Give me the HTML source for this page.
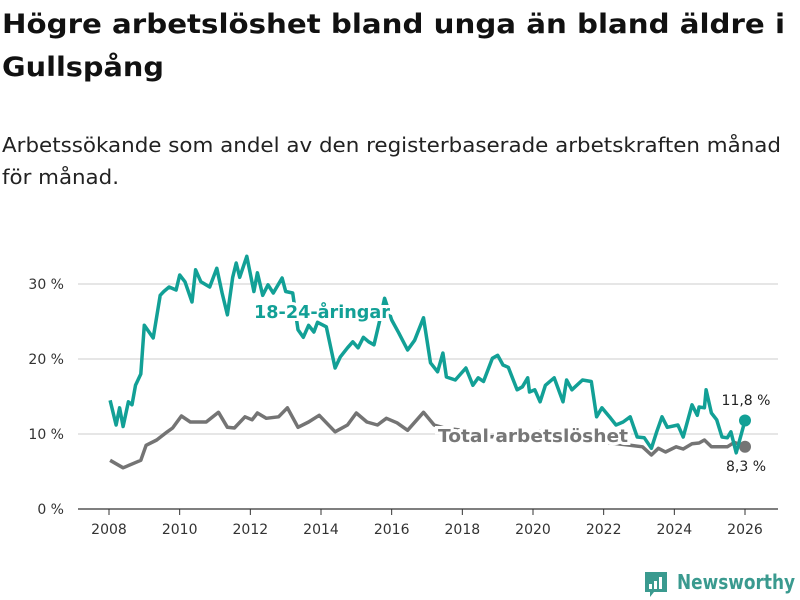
<!DOCTYPE html>
<html><head><meta charset="utf-8"><style>
body{margin:0;background:#fff;font-family:"DejaVu Sans","Liberation Sans",sans-serif;}
#wrap{position:relative;width:800px;height:600px;overflow:hidden;}
</style></head><body>
<div id="wrap">
<svg id="chart" width="800" height="600" style="position:absolute;left:0;top:0">
<g font-family="DejaVu Sans, sans-serif" font-weight="bold" font-size="27" fill="#111">
<text x="2" y="33" textLength="783" lengthAdjust="spacingAndGlyphs">Högre arbetslöshet bland unga än bland äldre i</text>
<text x="2" y="76" textLength="162" lengthAdjust="spacingAndGlyphs">Gullspång</text>
</g>
<g font-family="DejaVu Sans, sans-serif" font-size="20" fill="#222">
<text x="2" y="152" textLength="779" lengthAdjust="spacingAndGlyphs">Arbetssökande som andel av den registerbaserade arbetskraften månad</text>
<text x="2" y="184" textLength="117" lengthAdjust="spacingAndGlyphs">för månad.</text>
</g>
</svg>
</div>
<script>
const yTicks=[0,10,20,30];
const xTicks=[2008,2010,2012,2014,2016,2018,2020,2022,2024,2026];
const youthYears=[2008.03,2008.2,2008.3,2008.4,2008.55,2008.65,2008.75,2008.9,2009.0,2009.25,2009.45,2009.55,2009.7,2009.9,2010.0,2010.15,2010.35,2010.45,2010.6,2010.85,2011.05,2011.2,2011.35,2011.5,2011.6,2011.7,2011.9,2012.1,2012.2,2012.35,2012.5,2012.65,2012.9,2013.0,2013.2,2013.35,2013.5,2013.65,2013.8,2013.9,2014.15,2014.4,2014.55,2014.75,2014.9,2015.05,2015.2,2015.35,2015.5,2015.65,2015.8,2016.0,2016.2,2016.45,2016.65,2016.9,2017.1,2017.3,2017.45,2017.55,2017.8,2018.1,2018.3,2018.45,2018.6,2018.85,2019.0,2019.15,2019.3,2019.55,2019.7,2019.85,2019.9,2020.05,2020.2,2020.35,2020.6,2020.85,2020.95,2021.1,2021.4,2021.65,2021.8,2021.95,2022.2,2022.35,2022.55,2022.75,2022.95,2023.15,2023.35,2023.5,2023.65,2023.8,2024.1,2024.25,2024.5,2024.65,2024.7,2024.85,2024.9,2025.05,2025.2,2025.35,2025.5,2025.6,2025.75,2026.0];
const youth=[14.5,11.2,13.5,11,14.3,13.9,16.5,18,24.5,22.8,28.5,29,29.6,29.2,31.2,30.3,27.6,31.9,30.3,29.6,32.1,28.8,25.9,30.9,32.8,30.9,33.7,29,31.5,28.5,29.9,28.8,30.8,29,28.8,23.9,22.9,24.5,23.6,24.9,24.3,18.8,20.3,21.5,22.3,21.5,22.9,22.3,21.9,24.9,28.1,25.2,23.5,21.2,22.5,25.5,19.5,18.3,20.8,17.6,17.2,18.8,16.5,17.5,17,20.1,20.5,19.2,18.9,15.9,16.3,17.5,15.6,15.9,14.3,16.5,17.5,14.3,17.2,15.9,17.2,17,12.3,13.5,12.1,11.2,11.6,12.3,9.6,9.5,8.1,10.3,12.3,10.9,11.2,9.6,13.9,12.5,13.6,13.5,15.9,12.8,11.9,9.6,9.5,10.3,7.5,11.8];
const totalYears=[2008.03,2008.4,2008.7,2008.9,2009.05,2009.35,2009.65,2009.8,2010.05,2010.3,2010.75,2011.1,2011.35,2011.55,2011.85,2012.05,2012.2,2012.45,2012.8,2013.05,2013.35,2013.65,2013.95,2014.4,2014.75,2015.0,2015.3,2015.6,2015.85,2016.15,2016.45,2016.9,2017.2,2017.5,2018.0,2018.7,2019.5,2020.3,2021.0,2021.6,2022.2,2022.75,2023.1,2023.35,2023.55,2023.75,2024.05,2024.25,2024.5,2024.7,2024.85,2025.05,2025.5,2025.7,2026.0];
const total=[6.5,5.5,6.1,6.5,8.5,9.2,10.3,10.8,12.4,11.6,11.6,12.9,10.9,10.8,12.3,11.9,12.8,12.1,12.3,13.5,10.9,11.6,12.5,10.3,11.2,12.8,11.6,11.2,12.1,11.5,10.5,12.9,11.2,10.8,10.5,9.6,9.8,10.5,9.8,9,8.8,8.5,8.3,7.2,8.1,7.6,8.3,8,8.7,8.8,9.2,8.3,8.3,8.9,8.3];
const youthLast="11,8 %", totalLast="8,3 %";
const svg=document.getElementById('chart');
const NS='http://www.w3.org/2000/svg';
const X=v=>109+(v-2008)*(745-109)/18;
const Y=v=>509-v*7.5;
function el(t,a,p){const e=document.createElementNS(NS,t);for(const k in a)e.setAttribute(k,a[k]);(p||svg).appendChild(e);return e;}
yTicks.forEach(t=>{
 if(t>0){const g=el('line',{x1:78,x2:778,y1:Y(t),y2:Y(t),stroke:'#ddd','stroke-width':1.5});
 
 }
 const l=el('text',{x:64,y:Y(t)+5,'text-anchor':'end','font-size':14,fill:'#333'});l.textContent=t+' %';
 
 
});
const ax=el('line',{x1:78,x2:778,y1:509,y2:509,stroke:'#333','stroke-width':1.2});


xTicks.forEach(t=>{
 el('line',{x1:X(t),x2:X(t),y1:509,y2:515,stroke:'#333','stroke-width':1});
 const l=el('text',{x:X(t),y:534,'text-anchor':'middle','font-size':14,fill:'#333'});l.textContent=t;
 
 
});
function series(years,arr,color,name){
 const n=arr.length;const pts=arr.map((v,i)=>[X(years[i]),Y(v)]);
 const p=el('path',{d:'M'+pts.map(q=>q[0].toFixed(1)+','+q[1].toFixed(1)).join('L'),fill:'none',stroke:color,'stroke-width':3.5,'stroke-linejoin':'round'});
 
 
 const c=el('circle',{cx:pts[n-1][0],cy:pts[n-1][1],r:6,fill:color});
 
 
}
series(totalYears,total,'#747474','total');
const l2=el('text',{x:438,y:442,'font-size':18,'font-weight':'bold',fill:'#777',stroke:'#fff','stroke-width':6,'paint-order':'stroke',textLength:190,lengthAdjust:'spacingAndGlyphs'});l2.textContent='Total arbetslöshet';


series(youthYears,youth,'#12a096','youth');
const l1=el('text',{x:254,y:318,'font-size':18,'font-weight':'bold',fill:'#12a096',stroke:'#fff','stroke-width':6,'paint-order':'stroke',textLength:136,lengthAdjust:'spacingAndGlyphs'});l1.textContent='18-24-åringar';


const v1=el('text',{x:746,y:405,'text-anchor':'middle','font-size':14,fill:'#222'});v1.textContent=youthLast;


const v2=el('text',{x:746,y:471,'text-anchor':'middle','font-size':14,fill:'#222'});v2.textContent=totalLast;


const logo=el('g',{});


el('path',{d:'M645,572h22v20h-13l-4,5v-5h-5z',fill:'#3a9a8f'},logo);
el('rect',{x:649,y:584,width:3,height:5,fill:'#fff'},logo);
el('rect',{x:654,y:581,width:3,height:8,fill:'#fff'},logo);
el('rect',{x:659,y:577,width:3,height:12,fill:'#fff'},logo);
const lt=el('text',{x:677,y:589,'font-size':20,fill:'#3a9a8f','font-weight':'bold',textLength:118,lengthAdjust:'spacingAndGlyphs'},logo);lt.textContent='Newsworthy';
</script>
</body></html>
